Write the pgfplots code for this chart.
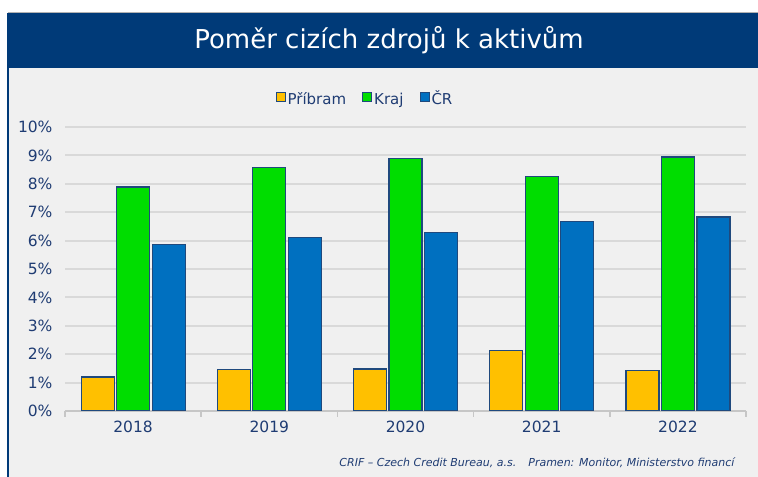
\documentclass[border=0pt]{standalone}
\usepackage{pgfplots}
\pgfplotsset{compat=1.18}
\usepackage{fontspec}
\setmainfont{DejaVu Sans}
\definecolor{hdr}{RGB}{0,58,120}
\definecolor{panel}{RGB}{240,240,240}
\definecolor{gridc}{RGB}{217,217,217}
\definecolor{txt}{RGB}{31,60,115}
\definecolor{cyel}{RGB}{255,192,0}
\definecolor{cgrn}{RGB}{0,221,0}
\definecolor{cblu}{RGB}{0,112,192}
\definecolor{edge}{RGB}{31,73,125}
\begin{document}
\begin{tikzpicture}[x=1bp,y=1bp]
\useasboundingbox (0,0) rectangle (758,477);
\fill[white] (0,0) rectangle (758,477);
\fill[panel] (8,0) rectangle (758,409);
\fill[hdr] (8,409) rectangle (758,464);
\draw[gray!60, line width=1bp] (8,464.5) -- (758,464.5);
\draw[hdr, line width=2bp] (8,0) -- (8,464);
\node[white, font=\fontsize{26bp}{30bp}\selectfont] at (389,437) {Poměr cizích zdrojů k aktivům};
\node[txt, font=\fontsize{11bp}{13bp}\selectfont\itshape, anchor=base east] at (738,10) {CRIF – Czech Credit Bureau, a.s.\hspace{12bp}Pramen: Monitor, Ministerstvo financí};
\begin{axis}[
  at={(65bp,66bp)}, anchor=south west,
  scale only axis, width=681bp, height=284bp,
  xmin=-0.5, xmax=4.5, ymin=0, ymax=10,
  axis line style={draw=none},
  xtick={0,1,2,3,4},
  xticklabels={2018,2019,2020,2021,2022},
  minor xtick={-0.5,0.5,1.5,2.5,3.5,4.5},
  xtick pos=bottom, ytick pos=left,
  tick align=outside,
  major tick length=0bp,
  minor tick length=6bp,
  minor x tick style={draw=gray!45, line width=1.5bp},
  ytick={0,1,...,10},
  yticklabel={\pgfmathprintnumber{\tick}\%},
  /pgf/number format/assume math mode=true,
  ymajorgrids,
  grid style={draw=gridc, line width=2bp},
  extra y ticks={0},
  extra y tick labels={},
  extra y tick style={grid style={draw=gray!45, line width=1.5bp}},
  tick label style={txt, font=\fontsize{15.5bp}{18bp}\selectfont},
  yticklabel style={xshift=-9bp},
  xticklabel style={yshift=-6bp},
  ybar, bar width=33bp,
  legend columns=3,
  legend style={at={(0.4405,1.0915)}, anchor=center, draw=none, fill=none,
    font=\fontsize{15bp}{18bp}\selectfont, text=txt,
    /tikz/every even column/.append style={column sep=14bp},
    nodes={inner sep=2bp, text height=11bp, text depth=3.5bp}},
  legend image code/.code={\draw[#1, line width=1bp, draw=edge] (0bp,-1bp) rectangle (9bp,8bp);},
]
\addplot[fill=cyel, draw=edge, line width=1.2bp, bar shift=-35.5bp] coordinates {(0,1.2) (1,1.46) (2,1.48) (3,2.12) (4,1.42)};
\addplot[fill=cgrn, draw=edge, line width=1.2bp, bar shift=0bp] coordinates {(0,7.89) (1,8.56) (2,8.88) (3,8.27) (4,8.94)};
\addplot[fill=cblu, draw=edge, line width=1.2bp, bar shift=35.5bp] coordinates {(0,5.87) (1,6.1) (2,6.28) (3,6.66) (4,6.83)};
\legend{Příbram,Kraj,ČR}
\end{axis}
\end{tikzpicture}
\end{document}
